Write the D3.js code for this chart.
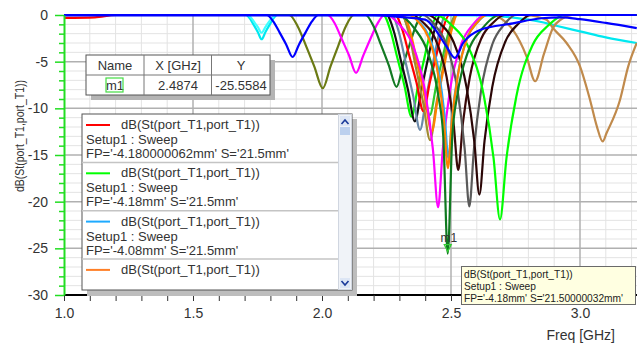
<!DOCTYPE html>
<html><head><meta charset="utf-8">
<script src="https://cdn.jsdelivr.net/npm/d3@7"></script>
<style>
body{margin:0;background:#fff;}
svg{display:block;font-family:"Liberation Sans",Arial,sans-serif;}
</style>
</head><body>
<svg id="c" width="637" height="349"></svg>
<script>
// ---------- data ----------
const xMajorTicks = [1.0, 1.5, 2.0, 2.5, 3.0];
const xTickLabels = ["1.0", "1.5", "2.0", "2.5", "3.0"];
const yMajorTicks = [0, -5, -10, -15, -20, -25, -30];
const yTickLabels = ["0", "-5", "-10", "-15", "-20", "-25", "-30"];

const cyanA = [[1.0,0],[1.706,0],[1.721,-0.39],[1.736,-1.09],[1.751,-1.82],[1.766,-2.6],[1.781,-1.82],[1.796,-1.09],[1.811,-0.39],[1.826,0],[2.6,-0.05],[2.75,-0.3],[2.845,-0.72],[2.9,-1.1],[3.0,-1.75],[3.1,-2.4],[3.22,-3.0]];
const cyanB = [[1.0,0],[1.711,0],[1.725,-0.29],[1.738,-0.8],[1.752,-1.33],[1.766,-1.9],[1.780,-1.33],[1.793,-0.8],[1.807,-0.29],[1.821,0],[3.22,0]];
const blueA = [[1.0,0],[1.786,0],[1.811,-0.68],[1.836,-1.89],[1.861,-3.15],[1.886,-4.5],[1.911,-3.15],[1.936,-1.89],[1.961,-0.68],[1.986,0],[3.22,0]];
const olive = [[1.0,0],[1.873,0],[1.905,-1.18],[1.938,-3.3],[1.970,-5.5],[2.003,-7.85],[2.033,-5.5],[2.063,-3.3],[2.093,-1.18],[2.123,0],[3.22,0]];
const magentaA = [[1.0,0],[2.022,0],[2.050,-0.93],[2.077,-2.6],[2.105,-4.34],[2.132,-6.2],[2.160,-4.34],[2.187,-2.6],[2.215,-0.93],[2.242,0],[3.22,0]];
const darkGreenA = [[1.0,0],[2.169,0],[2.199,-1.16],[2.229,-3.23],[2.259,-5.39],[2.289,-7.7],[2.314,-5.39],[2.339,-3.23],[2.364,-1.16],[2.389,0],[3.22,0]];
const tanA = [[1.0,0],[2.66,0],[2.70,-0.5],[2.74,-1.6],[2.793,-4.45],[2.826,-7.1],[2.86,-4.2],[2.895,-1.4],[2.93,-0.4],[2.97,0],[3.22,0]];
const tanB = [[1.0,0],[2.78,0],[2.87,-0.5],[2.895,-1.4],[2.948,-3.0],[3.0,-5.5],[3.039,-9.1],[3.065,-11.9],[3.088,-13.55],[3.103,-12.65],[3.155,-9.1],[3.187,-5.5],[3.22,-3.0]];
const greenA = [[1.0,0],[2.237,0],[2.265,-1.64],[2.292,-4.58],[2.320,-7.63],[2.347,-10.9],[2.372,-7.63],[2.397,-4.58],[2.422,-1.64],[2.447,0],[3.22,0]];
const blackA = [[1.0,0],[2.250,0],[2.278,-1.71],[2.305,-4.79],[2.333,-7.98],[2.360,-11.4],[2.385,-7.98],[2.410,-4.79],[2.435,-1.71],[2.460,0],[3.22,0]];
const slate = [[1.0,0],[2.270,0],[2.298,-1.85],[2.325,-5.17],[2.353,-8.61],[2.380,-12.3],[2.405,-8.61],[2.430,-5.17],[2.455,-1.85],[2.480,0],[3.22,0]];
const redA = [[1.0,-0.3],[1.12,-0.25],[1.2,0],[2.283,0],[2.311,-1.55],[2.338,-4.33],[2.366,-7.21],[2.393,-10.3],[2.418,-7.21],[2.443,-4.33],[2.468,-1.55],[2.493,0],[3.22,0]];
const greenB = [[1.0,0],[2.308,0],[2.336,-1.61],[2.363,-4.49],[2.391,-7.49],[2.418,-10.7],[2.443,-7.49],[2.468,-4.49],[2.493,-1.61],[2.518,0],[3.22,0]];
const orangeA = [[1.0,0],[2.315,0],[2.343,-1.88],[2.370,-5.25],[2.398,-8.75],[2.425,-12.5],[2.450,-8.75],[2.475,-5.25],[2.500,-1.88],[2.525,0],[3.22,0]];
const khaki = [[1.0,0],[2.309,0],[2.337,-2.01],[2.364,-5.63],[2.392,-9.38],[2.419,-13.4],[2.444,-9.38],[2.469,-5.63],[2.494,-2.01],[2.519,0],[3.22,0]];
const magentaB = [[1.0,0],[2.250,0],[2.300,-1.03],[2.350,-3.09],[2.400,-8.24],[2.430,-14.42],[2.450,-20.6],[2.468,-14.42],[2.495,-8.24],[2.540,-3.09],[2.585,-1.03],[2.630,0],[3.22,0]];
const lightBlue = [[1.0,0],[2.340,0],[2.378,-0.77],[2.415,-2.3],[2.453,-6.12],[2.475,-10.71],[2.490,-15.3],[2.505,-10.71],[2.528,-6.12],[2.565,-2.3],[2.603,-0.77],[2.640,0],[3.22,0]];
const orangeB = [[1.0,0],[2.338,0],[2.376,-0.82],[2.413,-2.46],[2.451,-6.56],[2.473,-11.48],[2.488,-16.4],[2.503,-11.48],[2.526,-6.56],[2.563,-2.46],[2.601,-0.82],[2.638,0],[3.22,0]];
const darkBrownA = [[1.0,0],[2.348,0],[2.393,-0.83],[2.438,-2.49],[2.483,-6.64],[2.510,-11.62],[2.528,-16.6],[2.546,-11.62],[2.573,-6.64],[2.618,-2.49],[2.663,-0.83],[2.708,0],[3.22,0]];
const grayA = [[1.0,0],[2.391,0],[2.436,-1.03],[2.481,-3.08],[2.526,-8.2],[2.553,-14.35],[2.571,-20.5],[2.589,-14.35],[2.616,-8.2],[2.661,-3.08],[2.706,-1.03],[2.751,0],[3.22,0]];
const darkBrownB = [[1.0,0],[2.410,0],[2.460,-0.96],[2.510,-2.89],[2.560,-7.7],[2.590,-13.48],[2.610,-19.25],[2.630,-13.48],[2.660,-7.7],[2.710,-2.89],[2.760,-0.96],[2.810,0],[3.22,0]];
const greenC = [[1.0,0],[2.440,0],[2.503,-1.1],[2.565,-3.29],[2.628,-8.76],[2.665,-15.33],[2.690,-21.9],[2.715,-15.33],[2.753,-8.76],[2.815,-3.29],[2.878,-1.1],[2.940,0],[3.22,0]];
const darkGreenM1 = [[1.0,0],[2.29,0],[2.36,-1.5],[2.41,-4],[2.45,-8.5],[2.47,-13],[2.4874,-25.56],[2.505,-13],[2.525,-8.5],[2.565,-4],[2.62,-1.5],[2.69,0],[3.22,0]];
const blueB = [[1.0,-0.05],[2.2,-0.05],[2.30,-0.2],[2.40,-0.5],[2.44,-1.6],[2.457,-2.3],[2.483,-3.4],[2.515,-4.6],[2.547,-3.0],[2.612,-1.6],[2.74,-0.9],[2.85,-0.35],[2.93,-0.25],[3.0,-0.45],[3.1,-0.85],[3.22,-1.4]];

const seriesData   = [cyanA, cyanB, olive, magentaA, darkGreenA, tanA, tanB, greenA, blackA, slate, redA, greenB, khaki, orangeA, magentaB, darkBrownA, grayA, darkBrownB, greenC, lightBlue, orangeB, darkGreenM1, blueB, blueA];
const seriesColors = ["#00e8f0", "#40ffff", "#6b7a14", "#ff00ff", "#137a23", "#c08a4c", "#c08a4c", "#00ff00", "#111111", "#6a88a8", "#ff0000", "#2ccc2c", "#a08a30", "#ff8000", "#ff00ff", "#3a0808", "#5a5a5a", "#2a0606", "#00ff00", "#1eaaff", "#ff8000", "#0f7a1f", "#0000ff", "#0000ff"];

const markerName = "m1";
const markerX = 2.4874;
const markerY = -25.5584;

const legendColors = ["#ff0000", "#00ff00", "#1eaaff", "#ff7f27"];
const legendTitle = "dB(St(port_T1,port_T1))";
const legendSetup = "Setup1 : Sweep";
const legendParams = ["FP='-4.180000062mm' S='21.5mm'", "FP='-4.18mm' S='21.5mm'", "FP='-4.08mm' S='21.5mm'", "FP='-4.18mm' S='21.5mm'"];
const tooltipLines = ["dB(St(port_T1,port_T1))", "Setup1 : Sweep", "FP='-4.18mm' S='21.50000032mm'"];

// ---------- drawing ----------
const svg = d3.select("#c");
const X0 = 64, XR = 637, YT = 15, YB = 295;
const x = d3.scaleLinear().domain([1.0, 3.0]).range([64, 580]);
const y = d3.scaleLinear().domain([0, -30]).range([YT, YB]);

const xMinor = d3.range(10, 33).map(v => v / 10);
const yMinor = d3.range(0, 31).map(v => -v);
const isMajX = v => xMajorTicks.some(t => Math.abs(t - v) < 1e-6);
const isMajY = v => v % 5 === 0;

// grid
const grid = svg.append("g");
grid.selectAll(".vx").data(xMinor.filter(v => !isMajX(v))).join("line")
  .attr("x1", d => x(d)).attr("x2", d => x(d)).attr("y1", YT).attr("y2", YB)
  .attr("stroke", "#e3e3e3").attr("stroke-width", 1);
grid.selectAll(".hy").data(yMinor.filter(v => !isMajY(v))).join("line")
  .attr("x1", X0).attr("x2", XR).attr("y1", d => y(d)).attr("y2", d => y(d))
  .attr("stroke", "#e3e3e3").attr("stroke-width", 1);
grid.selectAll(".vX").data(xMajorTicks.slice(1)).join("line")
  .attr("x1", d => x(d)).attr("x2", d => x(d)).attr("y1", YT).attr("y2", YB)
  .attr("stroke", "#b0b0b0").attr("stroke-width", 1.5);
grid.selectAll(".hY").data(yMajorTicks.slice(1, -1)).join("line")
  .attr("x1", X0).attr("x2", XR).attr("y1", d => y(d)).attr("y2", d => y(d))
  .attr("stroke", "#b0b0b0").attr("stroke-width", 1.5);
grid.append("line").attr("x1", X0).attr("x2", XR).attr("y1", YT).attr("y2", YT)
  .attr("stroke", "#707070").attr("stroke-width", 2);

// curves
svg.append("clipPath").attr("id", "pc").append("rect")
  .attr("x", X0).attr("y", YT - 3).attr("width", XR - X0).attr("height", YB - YT + 3);
const line = d3.line().x(d => x(d[0])).y(d => y(d[1])).curve(d3.curveMonotoneX);
svg.append("g").attr("clip-path", "url(#pc)")
  .selectAll("path").data(seriesData).join("path")
  .attr("d", line).attr("fill", "none")
  .attr("stroke", (d, i) => seriesColors[i]).attr("stroke-width", 2.2)
  .attr("stroke-linejoin", "round");

// x axis
const xAxis = d3.axisBottom(x).tickValues(xMinor).tickSize(6).tickSizeOuter(0).tickPadding(7)
  .tickFormat(d => { const k = xMajorTicks.findIndex(t => Math.abs(t - d) < 1e-6); return k >= 0 ? xTickLabels[k] : ""; });
const gx = svg.append("g").attr("transform", `translate(0,${YB})`).call(xAxis);
gx.select(".domain").attr("d", `M${X0},0H${XR}`).attr("stroke", "#000").attr("stroke-width", 2);
gx.selectAll(".tick line").attr("stroke", "#333");
gx.selectAll(".tick text").attr("font-size", 14).attr("fill", "#333").attr("font-family", "Liberation Sans, Arial, sans-serif");

// y axis
const yAxis = d3.axisLeft(y).tickValues(yMinor).tickSize(5).tickSizeOuter(0).tickPadding(11)
  .tickFormat(d => { const k = yMajorTicks.indexOf(d); return k >= 0 ? yTickLabels[k] : ""; });
const gy = svg.append("g").attr("transform", `translate(${X0},0)`).call(yAxis);
gy.select(".domain").attr("stroke", "#22dd22").attr("stroke-width", 2);
gy.selectAll(".tick line").attr("stroke", "#22dd22").attr("stroke-width", 1.5)
  .attr("x2", d => isMajY(d) ? -9 : -5);
gy.selectAll(".tick text").attr("font-size", 14).attr("fill", "#333").attr("font-family", "Liberation Sans, Arial, sans-serif");

// axis titles
svg.append("text").attr("transform", "translate(24,136) rotate(-90)")
  .attr("text-anchor", "middle").attr("font-size", 12.5).attr("fill", "#333")
  .attr("textLength", 112).attr("lengthAdjust", "spacingAndGlyphs")
  .text("dB(St(port_T1,port_T1))");
svg.append("text").attr("x", 615).attr("y", 340).attr("text-anchor", "end")
  .attr("font-size", 14).attr("fill", "#333").text("Freq [GHz]");

// marker m1
const mx = x(markerX), my = y(markerY);
svg.append("path")
  .attr("d", `M${mx - 3.5},${my - 9}L${mx + 3.5},${my - 9}L${mx},${my - 2}Z`)
  .attr("fill", "none").attr("stroke", "#33cc33").attr("stroke-width", 1.2);
svg.append("text").attr("x", mx + 1).attr("y", my - 12).attr("text-anchor", "middle")
  .attr("font-size", 12).attr("fill", "#333").text(markerName);

// marker table
const tb = svg.append("g");
tb.append("rect").attr("x", 91).attr("y", 60).attr("width", 184).attr("height", 40).attr("fill", "#b4b4b4");
tb.append("rect").attr("x", 86).attr("y", 55).attr("width", 184).attr("height", 40)
  .attr("fill", "#fff").attr("stroke", "#555").attr("stroke-width", 1);
tb.append("line").attr("x1", 86).attr("x2", 270).attr("y1", 75).attr("y2", 75).attr("stroke", "#777");
[144, 211.5].forEach(cx => tb.append("line").attr("x1", cx).attr("x2", cx).attr("y1", 55).attr("y2", 95).attr("stroke", "#777"));
const colC = [115, 178, 241];
const hdr = ["Name", "X [GHz]", "Y"];
const row = [markerName, markerX.toFixed(4), markerY.toFixed(4)];
hdr.forEach((t, i) => tb.append("text").attr("x", colC[i]).attr("y", 70).attr("text-anchor", "middle").attr("font-size", 13).attr("fill", "#333").text(t));
row.forEach((t, i) => tb.append("text").attr("x", colC[i]).attr("y", 90).attr("text-anchor", "middle").attr("font-size", 13).attr("fill", "#333").text(t));
tb.append("rect").attr("x", 106).attr("y", 78).attr("width", 17).attr("height", 14)
  .attr("fill", "none").attr("stroke", "#44dd44").attr("stroke-width", 1.2);

// legend
const lg = svg.append("g");
lg.append("rect").attr("x", 87).attr("y", 119).attr("width", 270).attr("height", 177).attr("fill", "#bdbdbd");
lg.append("rect").attr("x", 82).attr("y", 114).attr("width", 270).attr("height", 176)
  .attr("fill", "#fff").attr("stroke", "#555").attr("stroke-width", 1);
svg.append("clipPath").attr("id", "lc").append("rect").attr("x", 82).attr("y", 114).attr("width", 256).attr("height", 166);
const le = lg.append("g").attr("clip-path", "url(#lc)");
legendColors.forEach((c, i) => {
  const y0 = 114 + i * 48.3;
  le.append("line").attr("x1", 86).attr("x2", 110).attr("y1", y0 + 11).attr("y2", y0 + 11).attr("stroke", c).attr("stroke-width", 2);
  le.append("text").attr("x", 121).attr("y", y0 + 15).attr("font-size", 13).attr("fill", "#333").text(legendTitle);
  le.append("text").attr("x", 86).attr("y", y0 + 30).attr("font-size", 13).attr("fill", "#333").text(legendSetup);
  le.append("text").attr("x", 86).attr("y", y0 + 44).attr("font-size", 13).attr("fill", "#333").text(legendParams[i]);
  le.append("line").attr("x1", 82).attr("x2", 338).attr("y1", y0 + 48.5).attr("y2", y0 + 48.5).attr("stroke", "#c4c4c4").attr("stroke-width", 1.5);
});
// scrollbar
lg.append("rect").attr("x", 338.5).attr("y", 114.5).attr("width", 13).attr("height", 175).attr("fill", "#f0f3f8").attr("stroke", "#d0d6e0");
lg.append("rect").attr("x", 340).attr("y", 116).attr("width", 10).attr("height", 10).attr("fill", "#dde6f5");
lg.append("rect").attr("x", 340).attr("y", 127).attr("width", 10).attr("height", 8).attr("fill", "#bcd0ee");
lg.append("rect").attr("x", 340).attr("y", 278).attr("width", 10).attr("height", 10).attr("fill", "#dde6f5");
lg.append("path").attr("d", "M341.5,124L345,120L348.5,124").attr("fill", "none").attr("stroke", "#1a3a9a").attr("stroke-width", 1.6);
lg.append("path").attr("d", "M341.5,281L345,285L348.5,281").attr("fill", "none").attr("stroke", "#1a3a9a").attr("stroke-width", 1.6);

// tooltip
const tt = svg.append("g");
tt.append("rect").attr("x", 461.5).attr("y", 266.5).attr("width", 174).attr("height", 38)
  .attr("fill", "#ffffe1").attr("stroke", "#6a6a6a").attr("stroke-width", 1);
tooltipLines.forEach((t, i) => tt.append("text").attr("x", 464).attr("y", 278 + i * 11.8)
  .attr("font-size", 10.2).attr("fill", "#222").text(t));
</script>
</body></html>
